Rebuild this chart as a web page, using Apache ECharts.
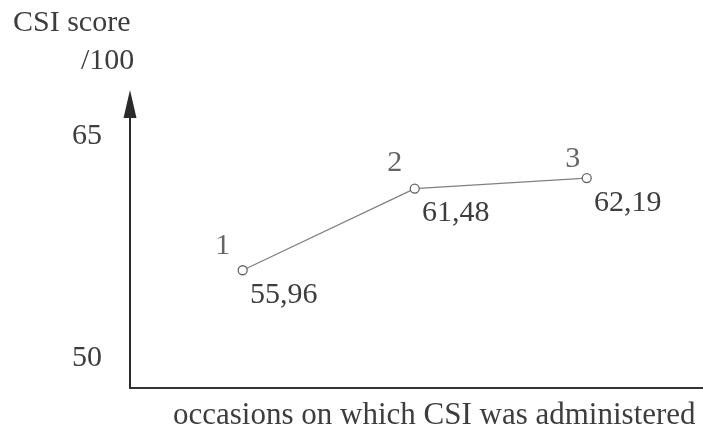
<!DOCTYPE html>
<html>
<head>
<meta charset="utf-8">
<script src="https://cdn.jsdelivr.net/npm/echarts@6/dist/echarts.min.js"></script>
<style>
html,body{margin:0;padding:0;background:#fff;}
#chart{width:703px;height:434px;}
</style>
</head>
<body>
<div id="chart"></div>
<script>
// ---- data ----
var occasions = [1, 2, 3];
var scores = [55.96, 61.48, 62.19];
var yTickValues = [50, 65];
var yAxisTitle = ['CSI score', '/100'];
var xAxisTitle = 'occasions on which CSI was administered';

// ---- styling ----
var FONT = '"Liberation Serif", "Times New Roman", serif';
var TXT = '#3d3d3d';
var numberOffsets = [[-20, -24], [-20, -25], [-14, -19]];

var lineData = occasions.map(function (o, i) { return [o, scores[i]]; });
var numData = occasions.map(function (o, i) {
  return { value: [o, scores[i]], label: { offset: numberOffsets[i] } };
});

var chart = echarts.init(document.getElementById('chart'), null, { renderer: 'canvas' });
chart.setOption({
  backgroundColor: '#fff',
  animation: false,
  grid: { left: 130, right: 0, top: 104, bottom: 46, containLabel: false },
  xAxis: {
    type: 'value', min: 0.345, max: 3.676,
    axisLine: { show: true, lineStyle: { color: '#333', width: 2 } },
    axisTick: { show: false }, axisLabel: { show: false }, splitLine: { show: false }
  },
  yAxis: {
    type: 'value', min: 48, max: 67.2,
    axisLine: { show: true, symbol: ['none', 'triangle'], symbolSize: [13, 28],
      lineStyle: { color: '#2a2a2a', width: 2 } },
    axisTick: { show: false },
    splitLine: { show: false },
    axisLabel: { show: true, customValues: yTickValues, margin: 28,
      fontSize: 30, fontFamily: FONT, color: TXT }
  },
  graphic: [
    { type: 'text', left: 13, top: 24 - 16, style: { text: yAxisTitle[0], font: '30px ' + FONT, fill: TXT } },
    { type: 'text', left: 81, top: 62 - 16, style: { text: yAxisTitle[1], font: '30px ' + FONT, fill: TXT } },
    { type: 'text', left: 173, top: 416 - 16, style: { text: xAxisTitle, font: '31px ' + FONT, fill: TXT } }
  ],
  series: [
    {
      type: 'line', data: lineData, z: 3,
      symbol: 'circle', symbolSize: 9,
      lineStyle: { color: '#808080', width: 1.3 },
      itemStyle: { color: '#fff', borderColor: '#666', borderWidth: 1.3 },
      label: {
        show: true, position: 'inside', offset: [41, 25],
        formatter: function (p) { return p.value[1].toFixed(2).replace('.', ','); },
        fontSize: 30, fontFamily: FONT, color: TXT
      }
    },
    {
      type: 'scatter', data: numData, z: 2,
      symbolSize: 1, itemStyle: { color: 'transparent' },
      label: {
        show: true, position: 'inside',
        formatter: function (p) { return String(p.value[0]); },
        fontSize: 30, fontFamily: FONT, color: TXT
      }
    }
  ]
});
</script>
</body>
</html>
